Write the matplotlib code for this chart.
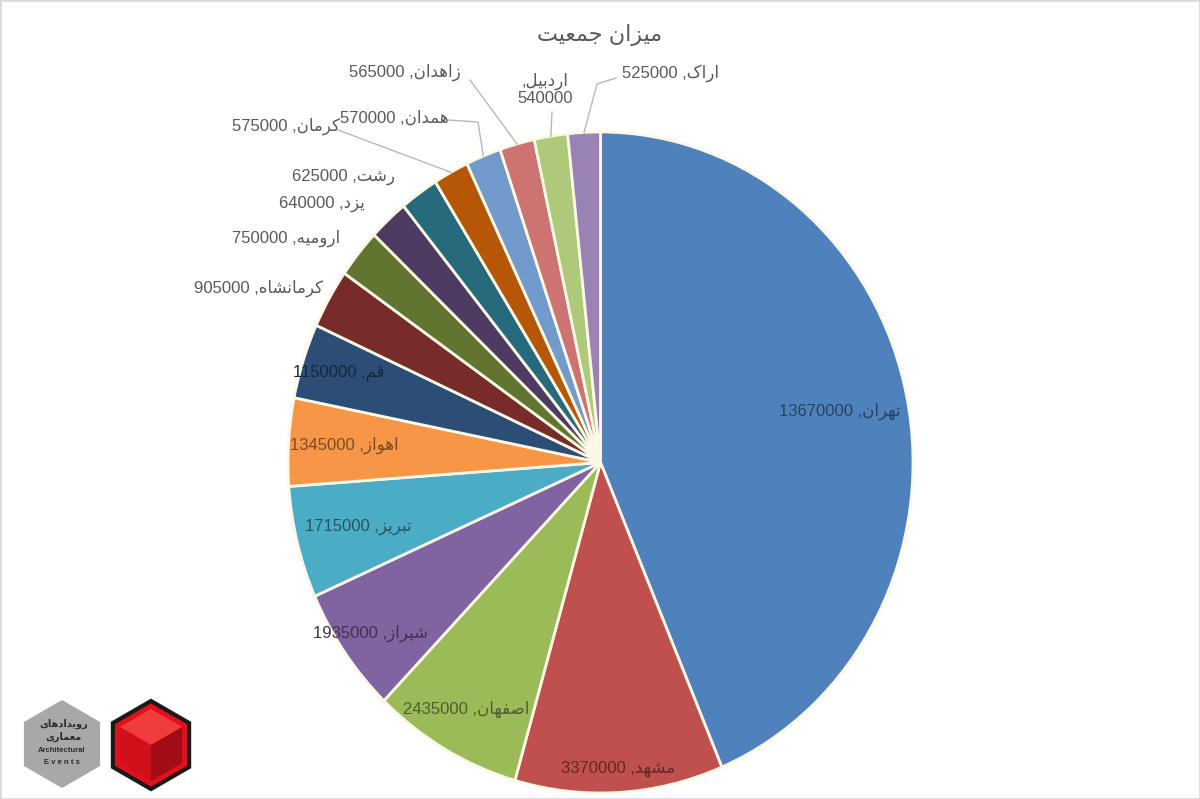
import numpy as np
import matplotlib
matplotlib.use("Agg")
import matplotlib.pyplot as plt
from matplotlib.patches import RegularPolygon, Polygon, Rectangle
from matplotlib import colors as mcolors

# data
cities = ["تهران", "مشهد", "اصفهان", "شیراز", "تبریز", "اهواز", "قم", "کرمانشاه",
          "ارومیه", "یزد", "رشت", "کرمان", "همدان", "زاهدان", "اردبیل", "اراک"]
population = [13670000, 3370000, 2435000, 1935000, 1715000, 1345000, 1150000, 905000,
              750000, 640000, 625000, 575000, 570000, 565000, 540000, 525000]
slice_colors = ["#4f81bd", "#c0504d", "#9bbb59", "#8064a2", "#4bacc6", "#f79646",
                "#2c4d75", "#772c2a", "#5f7530", "#4d3b62", "#276a7c", "#b65708",
                "#729aca", "#cd7371", "#afc97a", "#9983b5"]
title = "میزان جمعیت"
logo_lines = ["رویدادهای", "معماری"]

FIG_W, FIG_H = 1200, 799
PIE_L, PIE_R, PIE_T, PIE_B = 288, 913, 132, 793
FONT = ["Liberation Sans", "DejaVu Sans"]
GREY = "#595959"

# matplotlib does no arabic shaping, so pick the presentation forms by hand
FORMS = {
    "ا": ("\ufe8d", "\ufe8e", None, None),
    "ب": ("\ufe8f", "\ufe90", "\ufe91", "\ufe92"),
    "ت": ("\ufe95", "\ufe96", "\ufe97", "\ufe98"),
    "ج": ("\ufe9d", "\ufe9e", "\ufe9f", "\ufea0"),
    "د": ("\ufea9", "\ufeaa", None, None),
    "ر": ("\ufead", "\ufeae", None, None),
    "ز": ("\ufeaf", "\ufeb0", None, None),
    "ش": ("\ufeb5", "\ufeb6", "\ufeb7", "\ufeb8"),
    "ص": ("\ufeb9", "\ufeba", "\ufebb", "\ufebc"),
    "ع": ("\ufec9", "\ufeca", "\ufecb", "\ufecc"),
    "ف": ("\ufed1", "\ufed2", "\ufed3", "\ufed4"),
    "ق": ("\ufed5", "\ufed6", "\ufed7", "\ufed8"),
    "ک": ("\ufb8e", "\ufb8f", "\ufb90", "\ufb91"),
    "ل": ("\ufedd", "\ufede", "\ufedf", "\ufee0"),
    "م": ("\ufee1", "\ufee2", "\ufee3", "\ufee4"),
    "ن": ("\ufee5", "\ufee6", "\ufee7", "\ufee8"),
    "ه": ("\ufee9", "\ufeea", "\ufeeb", "\ufeec"),
    "و": ("\ufeed", "\ufeee", None, None),
    "ی": ("\ufbfc", "\ufbfd", "\ufbfe", "\ufbff"),
}


def rtl(text):
    out = []
    for i, ch in enumerate(text):
        f = FORMS.get(ch)
        if f is None:
            out.append(ch)
            continue
        prev = text[i - 1] if i > 0 else ""
        nxt = text[i + 1] if i + 1 < len(text) else ""
        join_prev = prev in FORMS and FORMS[prev][2] is not None
        join_next = nxt in FORMS and f[2] is not None
        if join_prev and join_next:
            out.append(f[3])
        elif join_prev:
            out.append(f[1])
        elif join_next:
            out.append(f[2])
        else:
            out.append(f[0])
    return "".join(reversed(out))


def px(x, y):
    # picture pixel -> pie data coords
    cx, cy = (PIE_L + PIE_R) / 2, (PIE_T + PIE_B) / 2
    return (x - cx) / ((PIE_R - PIE_L) / 2), (cy - y) / ((PIE_B - PIE_T) / 2)


fig = plt.figure(figsize=(FIG_W / 100, FIG_H / 100), dpi=100)
fig.patch.set_facecolor("white")

ax = fig.add_axes([PIE_L / FIG_W, 1 - PIE_B / FIG_H,
                   (PIE_R - PIE_L) / FIG_W, (PIE_B - PIE_T) / FIG_H])
wedges, _ = ax.pie(population, colors=slice_colors, startangle=90, counterclock=False,
                   wedgeprops=dict(edgecolor="#fbf8e6", linewidth=2))
ax.set_aspect("auto")
ax.set_xlim(-1, 1)
ax.set_ylim(-1, 1)
ax.axis("off")

# labels inside the big slices
inside_r = [0.78, 0.93, 0.86, 0.90, 0.80, 0.82, 0.88]
for i, r in enumerate(inside_r):
    w = wedges[i]
    th = np.deg2rad((w.theta1 + w.theta2) / 2)
    dark = np.array(mcolors.to_rgb(slice_colors[i])) * 0.5
    ax.text(r * np.cos(th), r * np.sin(th), f"{population[i]} ,{rtl(cities[i])}",
            ha="center", va="center", fontsize=12, color=dark, family=FONT)

# labels outside, with leader lines: (text centre, waypoints) in picture pixels
outside = {
    15: ((671, 73), [(597, 84), (616, 78)]),
    14: ((545, 89), [(552, 112)]),
    13: ((405, 72), [(470, 80)]),
    12: ((394, 118), [(478, 122), (448, 120)]),
    11: ((286, 126), [(338, 130)]),
    10: ((343, 177), []),
    9: ((322, 204), []),
    8: ((286, 238), []),
    7: ((258, 288), []),
}
for i, (pos, way) in outside.items():
    w = wedges[i]
    th = np.deg2rad((w.theta1 + w.theta2) / 2)
    tx, ty = px(*pos)
    if i == 14:
        label = f",{rtl(cities[i])}\n{population[i]}"
    else:
        label = f"{population[i]} ,{rtl(cities[i])}"
    ax.text(tx, ty, label, ha="center", va="center", fontsize=12, color=GREY,
            family=FONT, linespacing=1.1)
    if way:
        pts = [(np.cos(th), np.sin(th))] + [px(*p) for p in way]
        xs, ys = zip(*pts)
        ax.plot(xs, ys, color="#b8b8b8", lw=1, clip_on=False)

fig.text(600 / FIG_W, 1 - 35 / FIG_H, rtl(title), ha="center", va="center",
         fontsize=16, color=GREY, family=FONT)

# logo in the lower left corner
lg = fig.add_axes([0, 0, 1, 1], zorder=-1)
lg.set_xlim(0, FIG_W)
lg.set_ylim(FIG_H, 0)
lg.axis("off")
lg.add_patch(RegularPolygon((62, 744), 6, radius=44, facecolor="#a8a8a8", edgecolor="none"))
cx, cy, r = 151, 745, 44
lg.add_patch(RegularPolygon((cx, cy), 6, radius=r, facecolor="#e3101b",
                            edgecolor="#1a1a1a", lw=3))
k = r * 0.82
c30 = np.cos(np.pi / 6)
top, bot = (cx, cy - k), (cx, cy + k)
ur, lr = (cx + k * c30, cy - k / 2), (cx + k * c30, cy + k / 2)
ul, ll = (cx - k * c30, cy - k / 2), (cx - k * c30, cy + k / 2)
lg.add_patch(Polygon([top, ur, (cx, cy), ul], facecolor="#f03c3c", edgecolor="none"))
lg.add_patch(Polygon([ul, (cx, cy), bot, ll], facecolor="#d0111b", edgecolor="none"))
lg.add_patch(Polygon([(cx, cy), ur, lr, bot], facecolor="#a30c14", edgecolor="none"))
lg.text(64, 724, rtl(logo_lines[0]), ha="center", va="center", fontsize=7,
        color="#2b2b2b", family=FONT, fontweight="bold")
lg.text(64, 737, rtl(logo_lines[1]), ha="center", va="center", fontsize=7,
        color="#2b2b2b", family=FONT, fontweight="bold")
lg.text(62, 751, "Architectural", ha="center", va="center", fontsize=5.5,
        color="#2b2b2b", family=FONT, fontweight="bold")
lg.text(62, 763, "E v e n t s", ha="center", va="center", fontsize=5.5,
        color="#2b2b2b", family=FONT, fontweight="bold")

fig.add_artist(Rectangle((0, 0), 1, 1, transform=fig.transFigure, fill=False,
                         edgecolor="#d9d9d9", lw=2))

fig.savefig("out.png", dpi=100)
